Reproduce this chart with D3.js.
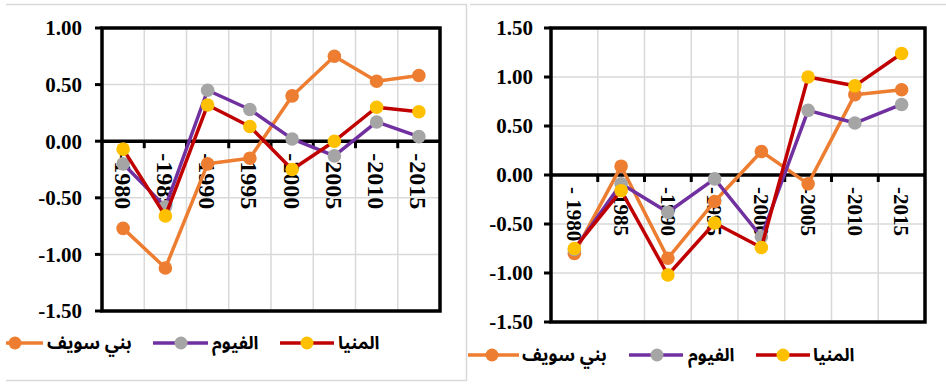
<!DOCTYPE html>
<html><head><meta charset="utf-8">
<script src="https://cdn.jsdelivr.net/npm/d3@7"></script>
<style>
html,body{margin:0;padding:0;background:#fff;}
svg{display:block;}
</style></head>
<body>
<svg id="chart" width="946" height="388"></svg>
<script>
// ---- data ----
const seriesNames = ["بني سويف", "الفيوم", "المنيا"];
const lineColors = ["#ED7D31", "#7030A0", "#C00000"];
const markerColors = ["#ED7D31", "#A5A5A5", "#FFC000"];

const leftCategories = ["-1980", "-1985", "-1990", "-1995", "-2000", "-2005", "-2010", "-2015"];
const leftBeniSuef = [-0.77, -1.12, -0.20, -0.15, 0.40, 0.75, 0.53, 0.58];
const leftFayoum   = [-0.20, -0.58, 0.45, 0.28, 0.02, -0.13, 0.17, 0.04];
const leftMinya    = [-0.07, -0.66, 0.32, 0.13, -0.25, 0.00, 0.30, 0.26];
const leftTicks = [1.00, 0.50, 0.00, -0.50, -1.00, -1.50];

const rightCategories = ["- 1980", "-1985", "-1990", "-1995", "-2000", "-2005", "-2010", "-2015"];
const rightBeniSuef = [-0.80, 0.09, -0.85, -0.27, 0.24, -0.09, 0.82, 0.87];
const rightFayoum   = [-0.76, -0.09, -0.38, -0.04, -0.63, 0.66, 0.53, 0.72];
const rightMinya    = [-0.75, -0.16, -1.02, -0.49, -0.74, 1.00, 0.91, 1.24];
const rightTicks = [1.50, 1.00, 0.50, 0.00, -0.50, -1.00, -1.50];

const SERIF = "Liberation Serif";
const SANS = "Noto Sans Arabic, DejaVu Sans, sans-serif";

const svg = d3.select("#chart");

// frames
svg.append("path").attr("d", "M6,4.5H466.5V380.5H6").attr("fill", "none").attr("stroke", "#d9d9d9").attr("stroke-width", 1.5);
svg.append("line").attr("x1", 470).attr("x2", 946).attr("y1", 4.5).attr("y2", 4.5).attr("stroke", "#d9d9d9").attr("stroke-width", 1.5);

const fmt = v => d3.format(".2f")(v).replace("\u2212", "-");

function drawChart(cfg) {
  const g = svg.append("g");
  const x = d3.scaleBand().domain(cfg.categories).range([cfg.x0, cfg.x1]).padding(0);
  const y = d3.scaleLinear().domain([d3.min(cfg.ticks), d3.max(cfg.ticks)]).range([cfg.y1, cfg.y0]);
  const boundaries = cfg.categories.slice(1).map(c => x(c));

  // gridlines
  g.append("g").selectAll("line").data(cfg.ticks).join("line")
    .attr("x1", cfg.x0).attr("x2", cfg.x1).attr("y1", d => y(d)).attr("y2", d => y(d))
    .attr("stroke", "#d9d9d9").attr("stroke-width", 1.5);
  g.append("g").selectAll("line").data(boundaries).join("line")
    .attr("x1", d => d).attr("x2", d => d).attr("y1", cfg.y0).attr("y2", cfg.y1)
    .attr("stroke", "#d9d9d9").attr("stroke-width", 1.5);

  // y axis ticks (outer) and labels
  g.append("g").selectAll("line").data(cfg.ticks).join("line")
    .attr("x1", cfg.x0 - 7).attr("x2", cfg.x0).attr("y1", d => y(d)).attr("y2", d => y(d))
    .attr("stroke", "#000").attr("stroke-width", 3);
  g.append("g").selectAll("text").data(cfg.ticks).join("text")
    .attr("x", cfg.x0 - cfg.labelGap).attr("y", d => y(d)).attr("dy", "0.35em")
    .attr("text-anchor", "end")
    .attr("font-family", SERIF).attr("font-weight", "bold").attr("font-size", cfg.yFont)
    .attr("fill", "#000")
    .text(d => fmt(d));

  // plot border
  g.append("rect").attr("x", cfg.x0).attr("y", cfg.y0).attr("width", cfg.x1 - cfg.x0).attr("height", cfg.y1 - cfg.y0)
    .attr("fill", "none").attr("stroke", "#000").attr("stroke-width", 3.5);

  // zero line and x ticks
  g.append("line").attr("x1", cfg.x0).attr("x2", cfg.x1).attr("y1", y(0)).attr("y2", y(0))
    .attr("stroke", "#000").attr("stroke-width", 3.5);
  g.append("g").selectAll("line").data(boundaries).join("line")
    .attr("x1", d => d).attr("x2", d => d).attr("y1", y(0)).attr("y2", y(0) + 7)
    .attr("stroke", "#000").attr("stroke-width", 3);

  // x labels
  g.append("g").selectAll("text").data(cfg.categories).join("text")
    .attr("transform", d => `translate(${x(d) + x.bandwidth() / 2},${y(0) + cfg.xLabelOffset}) rotate(90)`)
    .attr("dy", "0.35em")
    .attr("text-anchor", "start")
    .attr("font-family", SERIF).attr("font-weight", "bold").attr("font-size", cfg.xFont)
    .attr("fill", "#000")
    .text(d => d);

  // series
  const line = d3.line().x((d, i) => x(cfg.categories[i]) + x.bandwidth() / 2).y(d => y(d));
  cfg.series.forEach((vals, si) => {
    g.append("path").datum(vals).attr("d", line)
      .attr("fill", "none").attr("stroke", lineColors[si]).attr("stroke-width", 3.5)
      .attr("stroke-linejoin", "round");
    g.append("g").selectAll("circle").data(vals).join("circle")
      .attr("cx", (d, i) => x(cfg.categories[i]) + x.bandwidth() / 2)
      .attr("cy", d => y(d)).attr("r", 6.8)
      .attr("fill", markerColors[si]);
  });

  // legend
  cfg.legend.forEach((L, si) => {
    const lg = g.append("g");
    lg.append("line").attr("x1", L.l1).attr("x2", L.l2).attr("y1", cfg.legendY).attr("y2", cfg.legendY)
      .attr("stroke", lineColors[si]).attr("stroke-width", 3.5);
    lg.append("circle").attr("cx", L.m).attr("cy", cfg.legendY).attr("r", 6.5).attr("fill", markerColors[si]);
    lg.append("text")
      .attr("x", L.t).attr("y", cfg.legendY).attr("dy", "0.35em")
      .attr("text-anchor", "start")
      .attr("font-family", SANS).attr("font-weight", "bold").attr("font-size", 18)
      .attr("fill", "#000")
      .text(seriesNames[si]);
  });
}

drawChart({
  categories: leftCategories,
  series: [leftBeniSuef, leftFayoum, leftMinya],
  ticks: leftTicks,
  x0: 102, x1: 440, y0: 28, y1: 311,
  labelGap: 20, yFont: 21, xFont: 24, xLabelOffset: 12,
  legendY: 343,
  legend: [{l1: 6, l2: 43, m: 15, t: 47}, {l1: 153, l2: 208, m: 181, t: 212}, {l1: 280, l2: 334, m: 307, t: 338}]
});

drawChart({
  categories: rightCategories,
  series: [rightBeniSuef, rightFayoum, rightMinya],
  ticks: rightTicks,
  x0: 551, x1: 925, y0: 28, y1: 322,
  labelGap: 18, yFont: 21, xFont: 21, xLabelOffset: 12,
  legendY: 355,
  legend: [{l1: 468, l2: 519, m: 492, t: 522}, {l1: 629, l2: 683, m: 657, t: 688}, {l1: 756, l2: 810, m: 783, t: 813}]
});
</script>
</body></html>
